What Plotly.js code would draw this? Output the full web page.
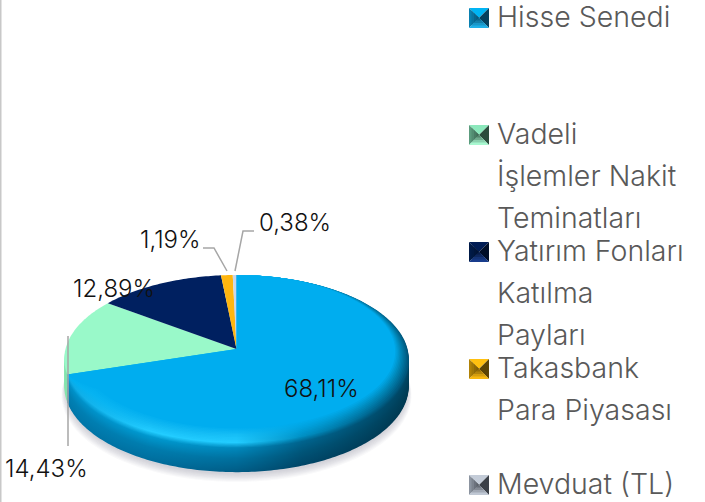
<!DOCTYPE html>
<html><head><meta charset="utf-8">
<script src="https://cdn.plot.ly/plotly-3.0.1.min.js"></script>
<style>html,body{margin:0;padding:0;background:#fff}#c{width:705px;height:502px}</style>
</head><body><div id="c"></div>
<script>
const categories = ['Hisse Senedi','Vadeli İşlemler Nakit Teminatları','Yatırım Fonları Katılma Payları','Takasbank Para Piyasası','Mevduat (TL)'];
const values = [68.11,14.43,12.89,1.19,0.38];
const valueLabels = ['68,11%','14,43%','12,89%','1,19%','0,38%'];
const sliceColors = ['#00ADEF','#99F9C9','#002060','#FFB60F','#C9D6EA'];
const legendLines = [['Hisse Senedi'],['Vadeli','İşlemler Nakit','Teminatları'],['Yatırım Fonları','Katılma','Payları'],['Takasbank','Para Piyasası'],['Mevduat (TL)']];
const legendLineY = [[16],[133,175,217],[250,292,334],[367,409],[483]];
const swatchY = [18,135,252,369,485];
const labelPos = [[321,388],[46,468],[114,288],[170,239],[295,222]];
const swatchTriangles = [
 ['#00B4F4','#0A80B0','#05405E','#1FB0E8'],
 ['#8CE8BC','#5C9C7E','#2C4C3C','#A8F8D0'],
 ['#001C54','#001A48','#000E28','#183C8C'],
 ['#FFC010','#B08208','#5C4404','#F8B810'],
 ['#C4CCD8','#8C94A0','#3C4048','#C0C8D4']];

// projection of the tilted disc
const CX=236.5, TY=349, R=171, K=0.119, B=82.8, DEPTH=27;
function proj(u,v,d){const w=1+K*v;return [CX+R*u/w, TY-B*v/w+(d||0)*(1-0.08*v)];}
const total=values.reduce((a,b)=>a+b,0);
const bounds=[0];values.forEach(v=>bounds.push(bounds[bounds.length-1]+v/total*2*Math.PI));
function wedge(i,d,a){
  a=a||0;const xs=[],ys=[];const p0=proj(0,0,d);xs.push(p0[0]);ys.push(p0[1]);
  const n=Math.max(4,Math.round((bounds[i+1]-bounds[i])*60));
  for(let k=0;k<=n;k++){const t=bounds[i]+(bounds[i+1]-bounds[i])*k/n;
    const ae=a*Math.min(1,(bounds[i+1]-t)/0.3);
    const p=proj(Math.sin(t)*(1-ae),Math.cos(t)*(1-ae)+ae,d);xs.push(p[0]);ys.push(p[1]);}
  xs.push(p0[0]);ys.push(p0[1]);return {x:xs,y:ys};
}
function hex(c){return [1,3,5].map(i=>parseInt(c.substr(i,2),16));}
function mix(c1,c2,t){const a=hex(c1),b=hex(c2);return 'rgb('+a.map((v,i)=>Math.round(v+(b[i]-v)*t)).join(',')+')';}
const stopX=[0,0.25,0.5,0.69,1];
const levels=[
 {a:0.07,d:0,c:['#00ADEF','#00ADEF','#00ADEF','#00ADEF','#00ADEF']},
 {a:0.035,d:0,c:['#00B0F0','#12BAF4','#16BEF6','#00A0DC','#0080AE']},
 {a:0,d:0,c:['#0AA8E4','#22CCFF','#22CCFF','#0090C4','#00557A']},
 {a:0,d:5,c:['#0090C8','#0098CE','#0088BC','#00648E','#004562']},
 {a:0,d:15,c:['#0080B4','#007CAE','#00709E','#005478','#003E58']},
 {a:0,d:DEPTH,c:['#0078AA','#006E9E','#005C86','#004668','#003850']}];
const traces=[];
// soft shadow
for(let s=0;s<8;s++){
  const xs=[],ys=[];
  for(let k=0;k<=120;k++){const t=k/120*2*Math.PI;const p=proj(Math.sin(t),Math.cos(t),DEPTH+9-s);xs.push(CX+(p[0]-CX)*(1.016-s*0.003));ys.push(p[1]);}
  traces.push({type:'scatter',mode:'none',x:xs,y:ys,fill:'toself',fillcolor:'rgba(120,125,135,0.045)',hoverinfo:'skip',showlegend:false});
}
// green side sliver
for(let d=DEPTH;d>=0;d-=4){const w=wedge(1,d);traces.push({type:'scatter',mode:'none',x:w.x,y:w.y,fill:'toself',fillcolor:'#84E4AE',hoverinfo:'skip',showlegend:false});}
// blue side + bevel
for(let l=levels.length-1;l>0;l--){
  const A=levels[l],C=levels[l-1];const steps=(A.d-C.d)>0?Math.round((A.d-C.d)/1):5;
  for(let s=0;s<steps;s++){const t=s/steps;
    const d=A.d+(C.d-A.d)*t,a=A.a+(C.a-A.a)*t;
    const w=wedge(0,d,a);
    traces.push({type:'scatter',mode:'none',x:w.x,y:w.y,fill:'toself',hoverinfo:'skip',showlegend:false,
      fillgradient:{type:'horizontal',start:64,stop:409,colorscale:stopX.map((q,i)=>[q,mix(A.c[i],C.c[i],t)])}});
  }
}
// other top faces, then main face
[1,2,3,4].forEach(i=>{const w=wedge(i,0);traces.push({type:'scatter',mode:'none',name:categories[i],x:w.x,y:w.y,fill:'toself',fillcolor:sliceColors[i],hoverinfo:'skip',showlegend:false});});
const m=wedge(0,0,0.07);traces.push({type:'scatter',mode:'none',name:categories[0],x:m.x,y:m.y,fill:'toself',fillcolor:sliceColors[0],hoverinfo:'skip',showlegend:false});

const FONT='Inter';
const annotations=[];
valueLabels.forEach((t,i)=>annotations.push({xref:'x',yref:'y',x:labelPos[i][0],y:labelPos[i][1],text:t,showarrow:false,xanchor:'center',yanchor:'middle',font:{family:FONT,size:24,color:'#111111',weight:300}}));
legendLines.forEach((ls,i)=>ls.forEach((t,j)=>annotations.push({xref:'x',yref:'y',x:495,y:legendLineY[i][j],text:t,showarrow:false,xanchor:'left',yanchor:'middle',font:{family:FONT,size:28.5,color:'#595959',weight:300}})));

const shapes=[{type:'line',xref:'x',yref:'y',x0:0.5,x1:0.5,y0:0,y1:502,line:{color:'#C8C8C8',width:2}}];
const leaders=['M68,336 L68,446','M203,248 L214,248 L227,271','M254,231 L243,231 L235,271'];
leaders.forEach(p=>shapes.push({type:'path',xref:'x',yref:'y',path:p,line:{color:'#A6A6A6',width:1.5}}));
swatchTriangles.forEach((cols,i)=>{
  const L=469,Rr=489,T=swatchY[i]-10,Bb=T+20,Mx=(L+Rr)/2,My=(T+Bb)/2;
  const tri=(pts,c)=>shapes.push({type:'path',xref:'x',yref:'y',path:'M'+pts.map(p=>p.join(',')).join(' L')+' Z',fillcolor:c,line:{width:0}});
  tri([[L,T],[Rr,T],[Mx,My]],cols[0]);
  tri([[Rr,T],[Rr,Bb],[Mx,My]],cols[2]);
  // nested bands give the left and bottom facets their shading
  for(let b=0;b<4;b++){
    const f=b/4,
      lx=L+(Mx-L)*f, ty=T+(My-T)*f, by=Bb-(Bb-My)*f, rx=Rr-(Rr-Mx)*f;
    tri([[L,T],[Mx,My],[L,Bb]].map((p,k)=>k==1?p:[lx,k==0?ty:by]),mix(cols[1],cols[2],f*0.8));
    tri([[L,Bb],[Rr,Bb],[Mx,My]].map((p,k)=>k==2?p:[k==0?lx:rx,by]),mix(cols[3],cols[2],f*0.9));
  }
});
Plotly.newPlot('c',traces,{
  width:705,height:502,margin:{l:0,r:0,t:0,b:0},paper_bgcolor:'#fff',plot_bgcolor:'#fff',showlegend:false,
  xaxis:{range:[0,705],visible:false,fixedrange:true},yaxis:{range:[502,0],visible:false,fixedrange:true},
  shapes:shapes,annotations:annotations
},{displayModeBar:false,staticPlot:true});
</script></body></html>
